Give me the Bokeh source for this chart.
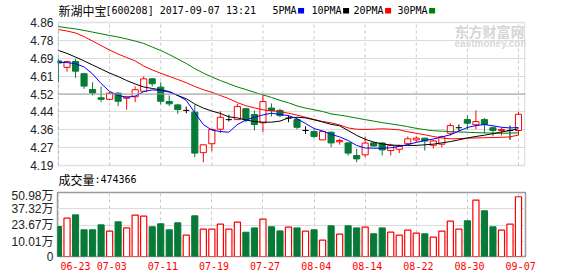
from bokeh.plotting import figure
from bokeh.models import ColumnDataSource, FixedTicker, Span, Label, Range1d, Grid, BoxAnnotation
from bokeh.layouts import column
from bokeh.core.properties import value
from bokeh.embed import file_html
from bokeh.resources import INLINE

# ---------------- data ----------------
stock_name = "新湖中宝"
stock_info = "[600208] 2017-09-07 13:21"
vol_title = "成交量"
vol_last = ":474366"
ma_names = ["5PMA", "10PMA", "20PMA", "30PMA"]

date_ticks = ["06-23", "07-03", "07-11", "07-19", "07-27",
              "08-04", "08-14", "08-22", "08-30", "09-07"]
date_tick_idx = [0, 6, 12, 18, 24, 30, 36, 42, 48, 54]

price_tick_labels = ["4.19", "4.27", "4.36", "4.44", "4.52", "4.61", "4.69", "4.78", "4.86"]
price_min, price_max = 4.19, 4.86
vol_tick_values = [10.01, 23.67, 37.32, 50.98]
vol_tick_labels = ["0", "10.01万", "23.67万", "37.32万", "50.98万"]

opens = [4.680, 4.650, 4.677, 4.620, 4.546, 4.507, 4.500, 4.529, 4.505, 4.512,
         4.538, 4.596, 4.557, 4.490, 4.474, 4.448, 4.440, 4.250, 4.292, 4.360,
         4.405, 4.405, 4.456, 4.429, 4.390, 4.459, 4.448, 4.412, 4.405, 4.354,
         4.349, 4.310, 4.346, 4.301, 4.296, 4.237, 4.240, 4.296, 4.295, 4.260,
         4.266, 4.292, 4.310, 4.318, 4.285, 4.290, 4.341, 4.367, 4.405, 4.381,
         4.405, 4.367, 4.354, 4.354, 4.354]
highs = [4.690, 4.680, 4.690, 4.624, 4.580, 4.560, 4.535, 4.533, 4.513, 4.560,
         4.607, 4.600, 4.580, 4.518, 4.479, 4.466, 4.474, 4.287, 4.362, 4.444,
         4.428, 4.479, 4.460, 4.448, 4.525, 4.481, 4.456, 4.424, 4.410, 4.373,
         4.357, 4.349, 4.350, 4.315, 4.299, 4.268, 4.326, 4.300, 4.300, 4.292,
         4.288, 4.326, 4.327, 4.320, 4.310, 4.330, 4.388, 4.382, 4.424, 4.448,
         4.412, 4.373, 4.367, 4.377, 4.440]
lows = [4.580, 4.630, 4.600, 4.549, 4.518, 4.487, 4.495, 4.468, 4.451, 4.487,
        4.537, 4.560, 4.476, 4.468, 4.432, 4.435, 4.229, 4.205, 4.257, 4.343,
        4.396, 4.405, 4.393, 4.354, 4.346, 4.420, 4.416, 4.393, 4.359, 4.338,
        4.318, 4.310, 4.276, 4.288, 4.237, 4.205, 4.229, 4.280, 4.237, 4.237,
        4.248, 4.287, 4.299, 4.260, 4.270, 4.275, 4.331, 4.351, 4.357, 4.360,
        4.341, 4.327, 4.331, 4.310, 4.331]
closes = [4.670, 4.677, 4.632, 4.562, 4.530, 4.500, 4.529, 4.491, 4.511, 4.545,
          4.596, 4.573, 4.491, 4.479, 4.452, 4.448, 4.248, 4.287, 4.359, 4.416,
          4.405, 4.466, 4.404, 4.382, 4.490, 4.448, 4.424, 4.412, 4.369, 4.354,
          4.326, 4.349, 4.296, 4.307, 4.248, 4.221, 4.295, 4.281, 4.263, 4.284,
          4.281, 4.315, 4.318, 4.305, 4.305, 4.325, 4.377, 4.367, 4.388, 4.396,
          4.382, 4.354, 4.359, 4.354, 4.430]
volumes = [22.7, 29.7, 32.4, 20.0, 20.0, 24.1, 18.9, 26.6, 21.6, 32.2,
           31.3, 22.5, 25.0, 20.0, 25.8, 15.5, 31.6, 20.5, 20.5, 24.7,
           20.5, 26.3, 18.0, 21.6, 28.8, 22.5, 19.1, 22.2, 21.6, 18.9,
           20.0, 11.4, 23.3, 16.4, 23.3, 21.6, 22.2, 16.7, 21.6, 18.0,
           15.5, 19.7, 17.2, 16.7, 13.9, 18.9, 27.2, 20.5, 27.5, 44.6,
           35.8, 22.5, 19.7, 24.7, 47.44]
ma5 = [4.674, 4.672, 4.667, 4.652, 4.619, 4.574, 4.537, 4.518, 4.510, 4.515,
       4.536, 4.544, 4.542, 4.534, 4.518, 4.495, 4.437, 4.382, 4.356, 4.349,
       4.346, 4.382, 4.403, 4.416, 4.427, 4.435, 4.429, 4.424, 4.409, 4.387,
       4.363, 4.352, 4.336, 4.324, 4.307, 4.284, 4.272, 4.271, 4.271, 4.273,
       4.279, 4.288, 4.298, 4.307, 4.314, 4.324, 4.334, 4.351, 4.368, 4.377,
       4.382, 4.376, 4.369, 4.366, 4.368]
ma10 = [4.729, 4.715, 4.698, 4.680, 4.661, 4.642, 4.623, 4.607, 4.588, 4.572,
        4.558, 4.551, 4.544, 4.537, 4.518, 4.503, 4.478, 4.459, 4.445, 4.434,
        4.418, 4.413, 4.403, 4.396, 4.393, 4.393, 4.398, 4.413, 4.416, 4.413,
        4.404, 4.394, 4.383, 4.376, 4.354, 4.331, 4.313, 4.300, 4.291, 4.286,
        4.284, 4.284, 4.284, 4.287, 4.290, 4.296, 4.302, 4.310, 4.319, 4.326,
        4.332, 4.339, 4.347, 4.354, 4.362]
ma20 = [4.827, 4.820, 4.811, 4.794, 4.773, 4.752, 4.731, 4.712, 4.696, 4.680,
        4.656, 4.638, 4.622, 4.608, 4.593, 4.578, 4.560, 4.545, 4.533, 4.518,
        4.503, 4.485, 4.470, 4.460, 4.451, 4.446, 4.443, 4.435, 4.426, 4.416,
        4.406, 4.396, 4.390, 4.380, 4.366, 4.360, 4.359, 4.360, 4.362, 4.360,
        4.357, 4.348, 4.341, 4.334, 4.326, 4.319, 4.315, 4.316, 4.318, 4.319,
        4.320, 4.321, 4.322, 4.324, 4.333]
ma30 = [4.841, 4.835, 4.830, 4.823, 4.815, 4.807, 4.799, 4.792, 4.783, 4.773,
        4.762, 4.745, 4.729, 4.710, 4.689, 4.668, 4.644, 4.623, 4.605, 4.588,
        4.573, 4.558, 4.546, 4.533, 4.521, 4.509, 4.495, 4.484, 4.469, 4.459,
        4.451, 4.443, 4.432, 4.426, 4.420, 4.412, 4.405, 4.398, 4.391, 4.385,
        4.379, 4.372, 4.364, 4.358, 4.353, 4.351, 4.349, 4.347, 4.346, 4.344,
        4.343, 4.342, 4.341, 4.342, 4.343]

# ---------------- layout constants ----------------
W = 578
FL, FR = 57, 525            # frame left/right (px)
PPU = 460.0 / 54.0          # px per candle
X_START = -1.0 / PPU
X_END = X_START + (FR - FL) / PPU
H1 = 188                    # upper figure: header + price panel + caption
P_TOP, P_H = 22, 143        # price box inside upper figure
V_BT, V_H, V_BB = 4, 64, 20  # volume panel borders / frame
VOL_START = -2.17
VOL_END = 50.98

RED = "#ff0000"
GREEN = "#087a38"
GRID = "#dcdcdc"
VGRID = "#c8c8c8"
OUTLINE = "#9a9a9a"
MONO = "DejaVu Sans Mono"
CJK = "Noto Sans CJK SC"

KP = (price_max - price_min) / P_H   # price per px


def fx(px):
    return X_START + (px - FL) / PPU


def fy1(py):
    return price_max - (py - P_TOP) * KP


n = len(closes)
xs = list(range(n))
BW = 0.72

up = dict(x=[], o=[], h=[], l=[], c=[])
dn = dict(x=[], o=[], h=[], l=[], c=[])
fl = dict(x=[], o=[], h=[], l=[], c=[])
for i in xs:
    d = up if closes[i] > opens[i] else (dn if closes[i] < opens[i] else fl)
    d["x"].append(i); d["o"].append(opens[i]); d["h"].append(highs[i])
    d["l"].append(lows[i]); d["c"].append(closes[i])
for d in (up, dn):
    d["top"] = [max(a, b) for a, b in zip(d["o"], d["c"])]
    d["bot"] = [min(a, b) for a, b in zip(d["o"], d["c"])]
fl["x0"] = [v - BW / 2 for v in fl["x"]]
fl["x1"] = [v + BW / 2 for v in fl["x"]]

src_up = ColumnDataSource(up)
src_dn = ColumnDataSource(dn)
src_fl = ColumnDataSource(fl)

vu = dict(x=[], v=[])
vd = dict(x=[], v=[])
for i in xs:
    d = vu if closes[i] >= opens[i] else vd
    d["x"].append(i); d["v"].append(volumes[i])
src_vu = ColumnDataSource(vu)
src_vd = ColumnDataSource(vd)


def style_fig(p):
    p.grid.visible = False
    p.background_fill_color = "white"
    p.border_fill_color = "white"
    for ax in p.axis:
        ax.axis_line_color = None
        ax.major_tick_line_color = None
        ax.minor_tick_line_color = None
        ax.major_tick_out = 0
        ax.major_tick_in = 0
    ax = p.yaxis[0]
    ax.major_label_standoff = 4
    ax.major_label_text_font = "'Liberation Sans', 'Noto Sans CJK SC'"
    ax.major_label_text_font_size = "12px"
    ax.major_label_text_color = "#222222"


# ---------------- upper figure (header, price panel, caption) ----------------
p1 = figure(width=W, height=H1, x_range=Range1d(X_START, X_END),
            y_range=Range1d(price_min - (H1 - P_TOP - P_H) * KP, price_max + P_TOP * KP),
            output_backend="svg", toolbar_location=None, title=None,
            x_axis_location=None, y_axis_location="left",
            min_border_left=FL, min_border_right=W - FR,
            min_border_top=0, min_border_bottom=0)
style_fig(p1)
p1.outline_line_color = None

step = (price_max - price_min) / (len(price_tick_labels) - 1)
pticks = [price_min + k * step for k in range(len(price_tick_labels))]
p1.yaxis.ticker = FixedTicker(ticks=pticks)
p1.yaxis.major_label_overrides = {t: s for t, s in zip(pticks, price_tick_labels)}
p1.add_layout(Grid(dimension=1, ticker=FixedTicker(ticks=pticks[1:-1]), grid_line_color=GRID))
p1.add_layout(Span(location=pticks[4], dimension="width", line_color="#a0a0a0", line_width=1.2))
p1.segment(x0=date_tick_idx, y0=price_min, x1=date_tick_idx, y1=price_max,
           line_color=VGRID, line_dash="3 3", line_width=1)
p1.add_layout(BoxAnnotation(left=fx(FL + 0.75), right=fx(FR - 0.75), bottom=price_min, top=price_max,
                            fill_color=None, fill_alpha=0, line_color=OUTLINE, line_width=1.5))

# watermark
p1.add_layout(Label(x=fx(454), y=fy1(30), text="东方财富网", text_font=CJK,
                    text_font_style="bold", text_font_size="14px", text_color="#d6d6d6",
                    text_baseline="middle", text_align="left"))
p1.add_layout(Label(x=fx(454), y=fy1(43), text="eastmoney.com", text_font="Liberation Sans",
                    text_font_style="bold", text_font_size="10px", text_color="#d9d9d9",
                    text_baseline="middle", text_align="left"))

# candles
p1.segment(x0="x", y0="h", x1="x", y1="l", source=src_up, line_color=RED, line_width=1)
p1.segment(x0="x", y0="h", x1="x", y1="l", source=src_dn, line_color=GREEN, line_width=1)
p1.segment(x0="x", y0="h", x1="x", y1="l", source=src_fl, line_color="black", line_width=1)
p1.segment(x0="x0", y0="c", x1="x1", y1="c", source=src_fl, line_color="black", line_width=1)
p1.vbar(x="x", width=BW, top="top", bottom="bot", source=src_up,
        fill_color="white", line_color=RED, line_width=1)
p1.vbar(x="x", width=BW, top="top", bottom="bot", source=src_dn,
        fill_color=GREEN, line_color=GREEN, line_width=1)

# moving averages
for series, col in ((ma30, "#008000"), (ma20, RED), (ma10, "black"), (ma5, "#0000ff")):
    p1.line(xs, series, line_color=col, line_width=1)

# header
HY = 9.5
p1.text(x=[fx(58)], y=[fy1(HY)], text=[stock_name], text_font=value(CJK), text_font_size="12px",
        text_color="black", text_baseline="middle", text_align="left")
p1.text(x=[fx(105)], y=[fy1(HY)], text=[stock_info], text_font=value(MONO), text_font_size="10px",
        text_color="black", text_baseline="middle", text_align="left")
legend_x = [272, 311, 353, 397]
legend_c = ["#0000ff", "black", RED, "#008000"]
for name, lx, col in zip(ma_names, legend_x, legend_c):
    p1.text(x=[fx(lx)], y=[fy1(HY)], text=[name], text_font=value(MONO), text_font_size="10px",
            text_color="black", text_baseline="middle", text_align="left")
    sx = lx + 6.02 * len(name) + 1.5
    p1.quad(left=[fx(sx)], right=[fx(sx + 6)], top=[fy1(7.5)], bottom=[fy1(13)],
            fill_color=col, line_color=None)

# volume caption
CY = 179
p1.text(x=[fx(58)], y=[fy1(CY)], text=[vol_title], text_font=value(CJK), text_font_size="12px",
        text_color="black", text_baseline="middle", text_align="left")
p1.text(x=[fx(94)], y=[fy1(CY)], text=[vol_last], text_font=value(MONO), text_font_size="10px",
        text_color="black", text_baseline="middle", text_align="left")

# ---------------- volume panel ----------------
p2 = figure(width=W, height=V_BT + V_H + V_BB, x_range=Range1d(X_START, X_END),
            y_range=Range1d(VOL_START, VOL_END),
            output_backend="svg", toolbar_location=None, title=None,
            x_axis_location="below", y_axis_location="left",
            min_border_left=FL, min_border_right=W - FR,
            min_border_top=V_BT, min_border_bottom=V_BB)
style_fig(p2)
p2.outline_line_color = OUTLINE
p2.outline_line_width = 1.5
p2.add_layout(Grid(dimension=0, ticker=FixedTicker(ticks=date_tick_idx),
                   grid_line_color=VGRID, grid_line_dash="3 3"))
vticks = [VOL_START] + vol_tick_values
p2.yaxis.ticker = FixedTicker(ticks=vticks)
p2.yaxis.major_label_overrides = {t: s for t, s in zip(vticks, vol_tick_labels)}
p2.add_layout(Grid(dimension=1, ticker=FixedTicker(ticks=vol_tick_values[:-1]), grid_line_color=GRID))
p2.vbar(x="x", width=BW, top="v", bottom=VOL_START, source=src_vd,
        fill_color=GREEN, line_color=GREEN, line_width=1)
p2.vbar(x="x", width=BW, top="v", bottom=VOL_START, source=src_vu,
        fill_color="white", line_color=RED, line_width=1.2)

# date labels on the real x axis (first one kept inside the left edge)
xlab_pos = [fx(75)] + [i + 0.25 for i in date_tick_idx[1:]]
xa = p2.xaxis[0]
xa.ticker = FixedTicker(ticks=xlab_pos)
xa.major_label_overrides = {t: s for t, s in zip(xlab_pos, date_ticks)}
xa.major_label_text_font = MONO
xa.major_label_text_font_size = "10px"
xa.major_label_text_color = RED
xa.major_label_standoff = 5

layout = column(p1, p2, spacing=0)
open("out.html", "w").write(file_html(layout, INLINE))
